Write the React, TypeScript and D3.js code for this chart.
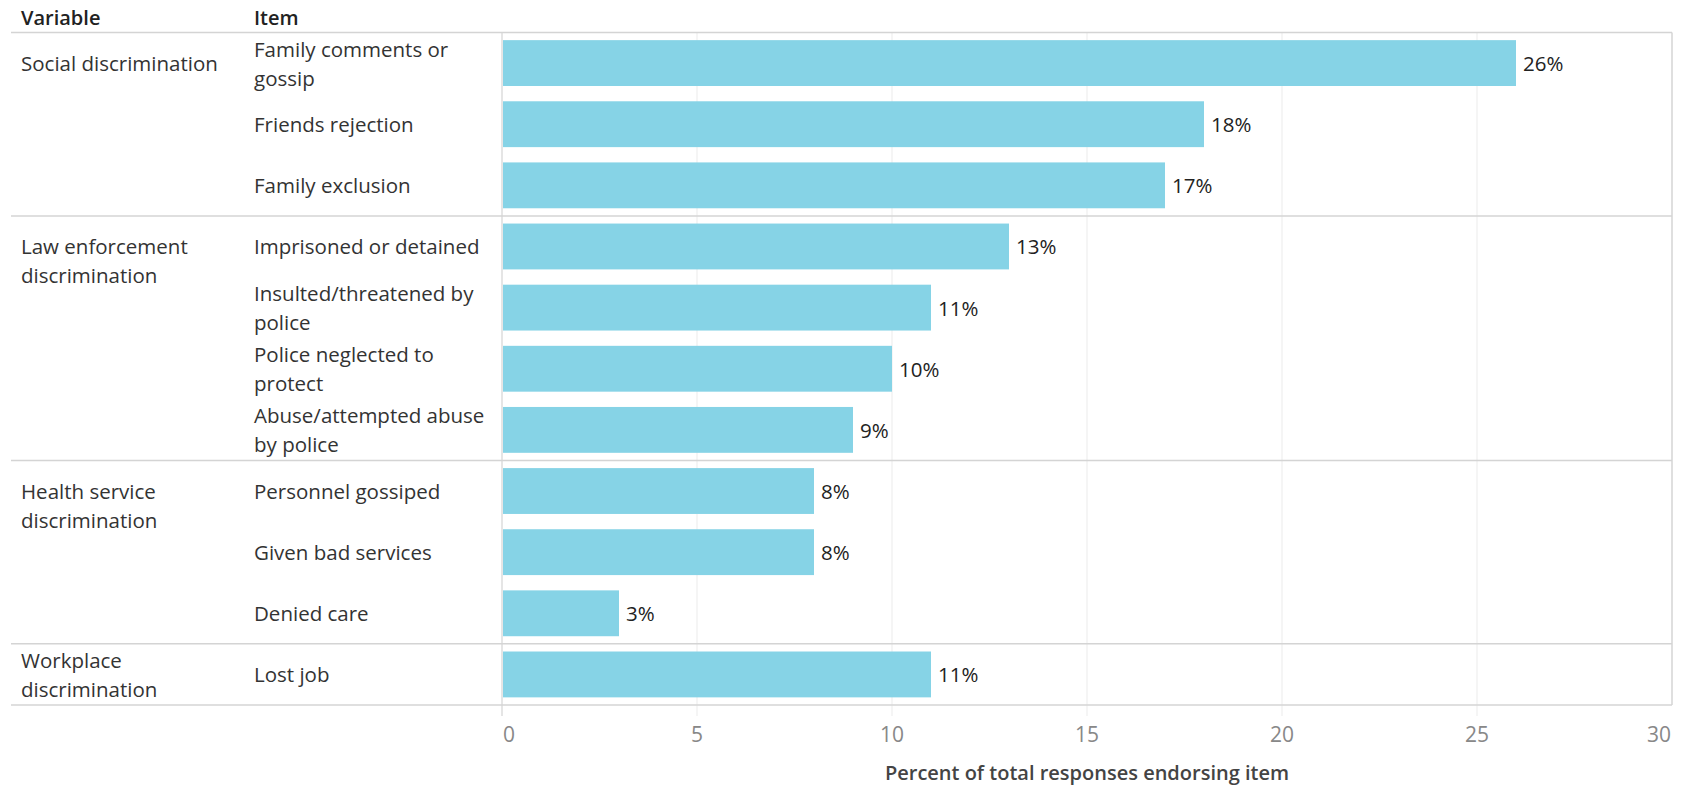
import React from "react";
import * as d3 from "d3";

const variables = [
  "Social discrimination",
  "Law enforcement\ndiscrimination",
  "Health service\ndiscrimination",
  "Workplace\ndiscrimination",
];
const items = [
  "Family comments or\ngossip",
  "Friends rejection",
  "Family exclusion",
  "Imprisoned or detained",
  "Insulted/threatened by\npolice",
  "Police neglected to\nprotect",
  "Abuse/attempted abuse\nby police",
  "Personnel gossiped",
  "Given bad services",
  "Denied care",
  "Lost job",
];
const itemVariable = [0, 0, 0, 1, 1, 1, 1, 2, 2, 2, 3];
const values = [26, 18, 17, 13, 11, 10, 9, 8, 8, 3, 11];
const xTicks = [0, 5, 10, 15, 20, 25, 30];
const axisTitle = "Percent of total responses endorsing item";
const headers = ["Variable", "Item"];

const W = 1682;
const H = 790;
const FONT = "'Open Sans', sans-serif";
const FS = 20.5;
const LH = 29;

export default function App() {
  const paneLeft = 502;
  const paneRight = 1672;
  const top = 32.5;
  const bottom = 705;
  const leftEdge = 11;
  const varX = 21;
  const itemX = 254;

  const x = d3.scaleLinear().domain([0, 30]).range([paneLeft, paneRight]);
  const y = d3
    .scaleBand<number>()
    .domain(d3.range(items.length))
    .range([top, bottom])
    .paddingInner(0.25)
    .paddingOuter(0.125);
  const step = y.step();

  const groups = variables.map((v, gi) => {
    const idx = itemVariable.map((g, i) => (g === gi ? i : -1)).filter((i) => i >= 0);
    const start = idx[0];
    const end = idx[idx.length - 1] + 1;
    return { label: v, start, end };
  });
  const rowTop = (i: number) => top + step * i;

  const lines = (s: string) => s.split("\n");

  return (
    <div style={{ position: "absolute", left: 0, top: 0 }}>
      <svg width={W} height={H} style={{ display: "block", background: "#fff" }}>
        <text x={varX} y={17} dominantBaseline="central" fontFamily={FONT} fontSize={20} fontWeight={600} fill="#222">
          {headers[0]}
        </text>
        <text x={itemX} y={17} dominantBaseline="central" fontFamily={FONT} fontSize={20} fontWeight={600} fill="#222">
          {headers[1]}
        </text>

        {xTicks.slice(1, -1).map((t) => (
          <line key={t} x1={x(t)} x2={x(t)} y1={top} y2={bottom + 11} stroke="#efefef" strokeWidth={1.2} />
        ))}

        {values.map((v, i) => (
          <rect
            key={i}
            x={x(0) + 1}
            y={y(i)!}
            width={x(v) - x(0) - 1}
            height={y.bandwidth()}
            fill="#86D3E6"
          />
        ))}

        {values.map((v, i) => (
          <text
            key={i}
            x={x(v) + 7}
            y={y(i)! + y.bandwidth() / 2}
            dominantBaseline="central"
            fontFamily={FONT}
            fontSize={FS}
            fill="#222"
          >
            {v}%
          </text>
        ))}

        <line x1={leftEdge} x2={paneRight} y1={top} y2={top} stroke="#d4d4d4" strokeWidth={1.5} />
        {groups.map((g, gi) => (
          <line
            key={gi}
            x1={leftEdge}
            x2={paneRight}
            y1={rowTop(g.end)}
            y2={rowTop(g.end)}
            stroke="#d4d4d4"
            strokeWidth={1.5}
          />
        ))}
        <line x1={x(0)} x2={x(0)} y1={top} y2={bottom + 11} stroke="#d4d4d4" strokeWidth={1.2} />
        <line x1={paneRight} x2={paneRight} y1={top} y2={bottom} stroke="#d4d4d4" strokeWidth={1.5} />

        {items.map((it, i) => {
          const ls = lines(it);
          const cy = rowTop(i) + step / 2;
          return (
            <text key={i} fontFamily={FONT} fontSize={FS} fill="#333">
              {ls.map((l, k) => (
                <tspan key={k} x={itemX} y={cy + (k - (ls.length - 1) / 2) * LH} dominantBaseline="central">
                  {l}
                </tspan>
              ))}
            </text>
          );
        })}

        {groups.map((g, gi) => {
          const ls = lines(g.label);
          const paneH = step * (g.end - g.start);
          const off = Math.min(step / 2, (paneH - (ls.length - 1) * LH) / 2);
          const y0 = rowTop(g.start) + off;
          return (
            <text key={gi} fontFamily={FONT} fontSize={FS} fill="#333">
              {ls.map((l, k) => (
                <tspan key={k} x={varX} y={y0 + k * LH} dominantBaseline="central">
                  {l}
                </tspan>
              ))}
            </text>
          );
        })}

        {xTicks.map((t, i) => {
          let anchor: "start" | "middle" | "end" = "middle";
          let tx = x(t);
          if (i === 0) {
            anchor = "start";
            tx = x(t) + 1;
          } else if (i === xTicks.length - 1) {
            anchor = "end";
            tx = x(t) - 1;
          }
          return (
            <text
              key={t}
              x={tx}
              y={734}
              textAnchor={anchor}
              dominantBaseline="central"
              fontFamily={FONT}
              fontSize={21}
              fill="#888"
            >
              {t}
            </text>
          );
        })}

        <text
          x={(paneLeft + paneRight) / 2}
          y={772}
          textAnchor="middle"
          dominantBaseline="central"
          fontFamily={FONT}
          fontSize={20}
          fontWeight={600}
          fill="#444"
        >
          {axisTitle}
        </text>
      </svg>
    </div>
  );
}
